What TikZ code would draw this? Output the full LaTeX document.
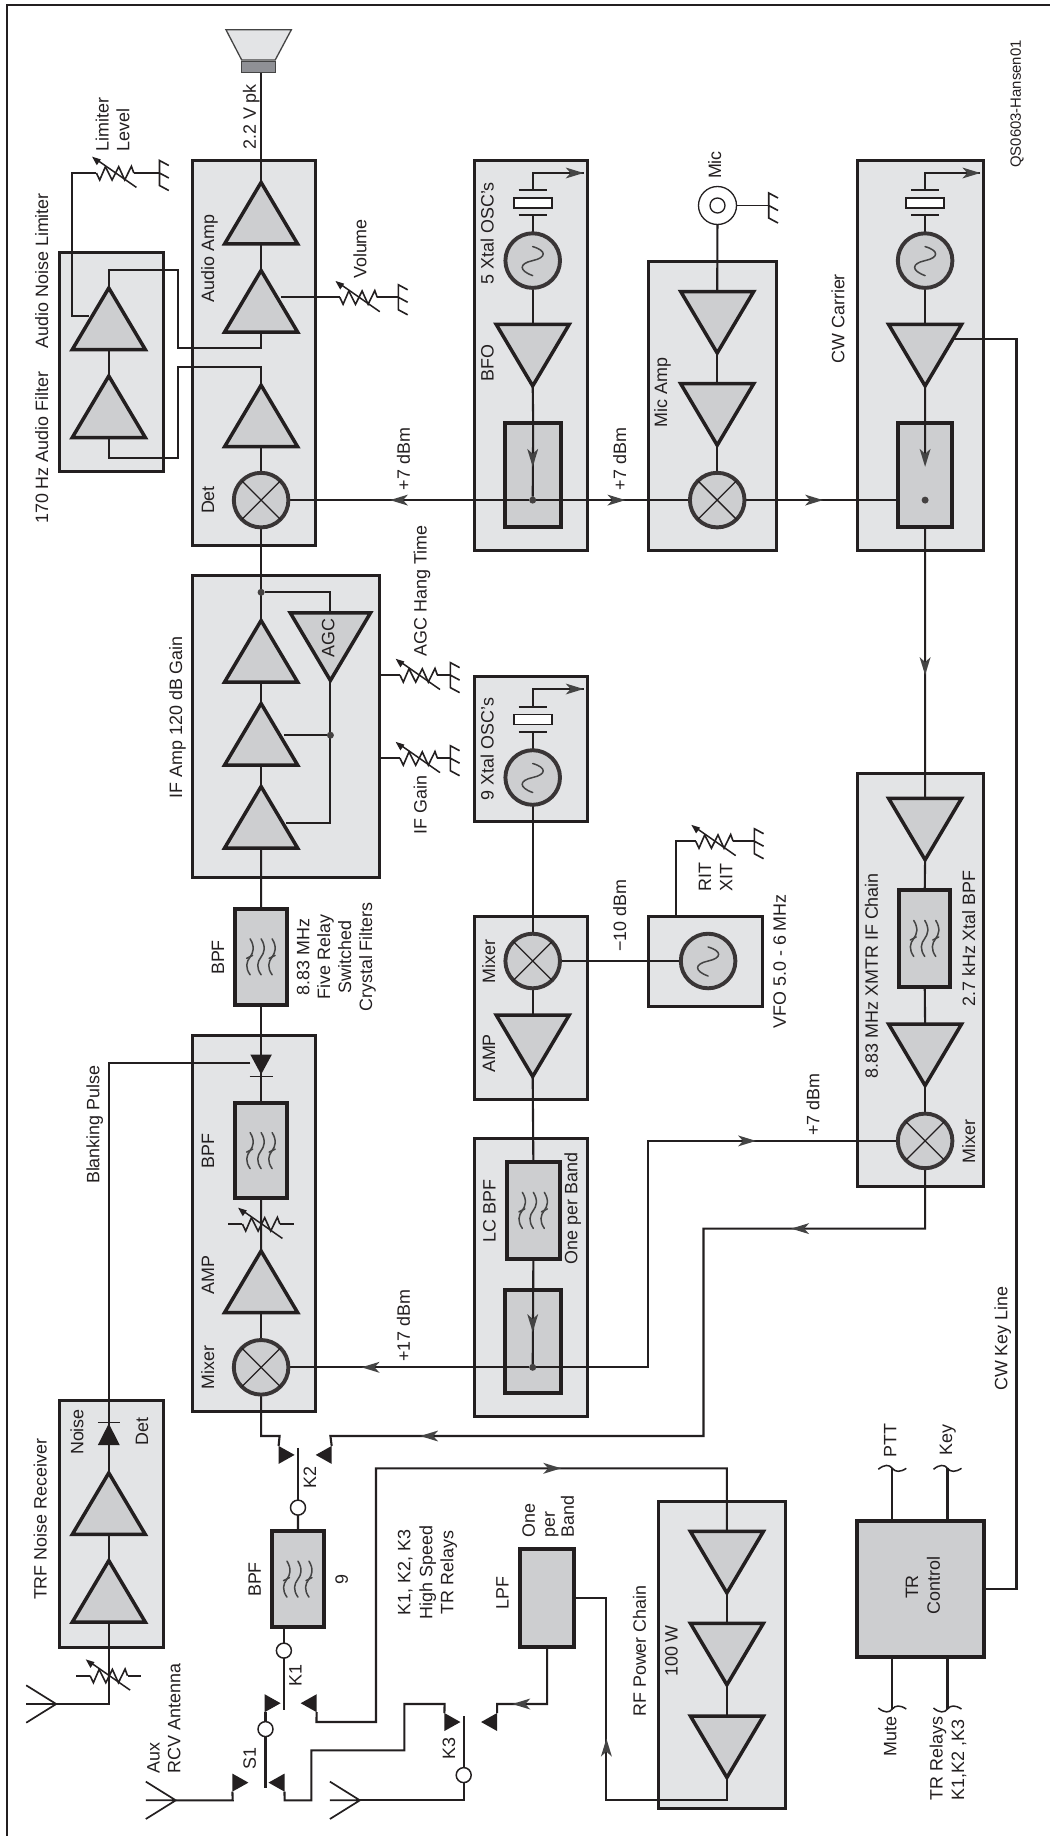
\documentclass[tikz,border=0pt]{standalone}
\usepackage{fontspec}
\setmainfont{Liberation Sans}
\definecolor{blockc}{HTML}{E3E4E6}
\definecolor{compc}{HTML}{CDCED0}
\definecolor{inkc}{HTML}{231F20}
\definecolor{headc}{HTML}{444444}
\definecolor{magc}{HTML}{8F9095}
\pgfdeclarelayer{blocks}\pgfdeclarelayer{parts}
\pgfsetlayers{blocks,main,parts}
\tikzset{
 blk/.style={draw=inkc,fill=blockc,line width=3pt,inner sep=0pt,outer sep=0pt,rectangle},
 comp/.style={draw=inkc,fill=compc,line width=4pt,inner sep=0pt,outer sep=0pt,rectangle},
 magnet/.style={draw=headc,fill=magc,line width=1.5pt,inner sep=0pt,outer sep=0pt,rectangle},
 ampst/.style={draw=inkc,fill=compc,line width=3.5pt,line join=miter,miter limit=10},
 wire/.style={draw=inkc,line width=2.1pt,line join=miter},
 thinl/.style={draw=inkc,line width=1.3pt},
 ring/.style={circle,draw=inkc!90,fill=compc,line width=3.9pt,minimum size=54.6pt,inner sep=0pt,outer sep=0pt},
 jdot/.style={circle,fill=inkc!85,minimum size=7pt,inner sep=0pt,outer sep=0pt},
 contact/.style={circle,draw=inkc,fill=white,line width=1.5pt,minimum size=15pt,inner sep=0pt,outer sep=0pt},
 xbody/.style={rectangle,draw=inkc,fill=white,line width=1.6pt,minimum width=38pt,minimum height=10pt,inner sep=0pt,outer sep=0pt},
 sq/.style={draw=headc,line width=1.5pt,line cap=round},
 lab/.style={rotate=90,inner sep=0pt,outer sep=0pt,text=inkc,font=\fontsize{17.9}{20}\selectfont,text height=12.8pt,text depth=0pt},
 labs/.style={lab,font=\fontsize{14.9}{18}\selectfont,text height=10.7pt},
}
\newcommand{\Blk}[6][blk]{\node[#1,minimum width={(#5-#3-3)*1pt},minimum height={(#6-#4-3)*1pt}] (#2) at ({(#3+#5)/2},{(#4+#6)/2}) {};}
\newcommand{\AmpU}[3]{\coordinate (#1B) at (#2,#3);\coordinate (#1A) at (#2,#3-61.5);
 \draw[ampst] (#2-36.5,#3) -- (#2,#3-61.5) -- (#2+36.5,#3) -- cycle;}
\newcommand{\AmpD}[4][1]{\coordinate (#2B) at (#3,#4);\coordinate (#2A) at (#3,#4+61.5*#1);
 \draw[ampst] (#3-36.5*#1,#4) -- (#3,#4+61.5*#1) -- (#3+36.5*#1,#4) -- cycle;}
\newcommand{\Mix}[3]{\node[ring] (#1) at (#2,#3) {};
 \draw[thinl] (#1.north west) -- (#1.south east) (#1.north east) -- (#1.south west);}
\newcommand{\Osc}[3]{\node[ring] (#1) at (#2,#3) {};
 \draw[sq,shift={(#1.center)}] (0,15) .. controls (-14,10) and (-14,3) .. (0,0) .. controls (14,-3) and (14,-10) .. (0,-14);}
\newcommand{\Xtal}[3]{\coordinate (#1T) at (#2,#3);\coordinate (#1B) at (#2,#3+25);
 \draw[thinl,line width=1.6pt] (#2-14,#3) -- (#2+14,#3) (#2-14,#3+25) -- (#2+14,#3+25);
 \node[xbody] (#1) at (#2,#3+12.5) {};}
\newcommand{\VR}[3]{\coordinate (#1L) at (#2,#3);\coordinate (#1R) at (#2+37.4,#3);
 \begin{scope}[shift={(#2,#3)}]
 \draw[thinl,line width=1.6pt,line join=miter] (0,0) -- (3.3,7) -- (9,-6.3) -- (15.7,7) -- (22.3,-6.3) -- (28.3,7) -- (35,-6.7) -- (37.4,0);
 \draw[thinl,line width=1.5pt] (40,14.4) -- (0,-13.5);
 \fill[inkc] (-4.3,-16.3) -- (4.4,-13.6) -- (0.4,-7.8) -- cycle;
 \end{scope}}
\newcommand{\Gnd}[3]{\coordinate (#1) at (#2,#3);
 \draw[thinl,line width=1.6pt] (#2+9.3,#3-7.5) -- (#2,#3-12.5) -- (#2,#3+12.5) -- (#2+9.3,#3+17.5) (#2,#3) -- (#2+9.3,#3+5);}
\newcommand{\Ant}[3]{\coordinate (#1) at (#2,#3);
 \draw[thinl,line width=1.7pt,line join=miter] (#2-30,#3-18.7) -- (#2,#3) -- (#2-30,#3+18.7) (#2-30,#3) -- (#2,#3);}
\newcommand{\RelR}[3]{\coordinate (#1T) at (#2-16,#3-9);\coordinate (#1D) at (#2-16,#3+9);
 \fill[inkc] (#2,#3) -- (#2-16,#3-9) -- (#2-16,#3+9) -- cycle;}
\newcommand{\RelL}[3]{\coordinate (#1T) at (#2+16,#3-9);\coordinate (#1D) at (#2+16,#3+9);
 \fill[inkc] (#2,#3) -- (#2+16,#3-9) -- (#2+16,#3+9) -- cycle;}
\newcommand{\Hd}[3]{\fill[headc,shift={(#1,#2)},rotate=#3] (0,0) -- (-18,5.5) -- (-13,0) -- (-18,-5.5) -- cycle;}
\newcommand{\Squig}[1]{\begin{scope}[shift={(#1.center)}]
 \foreach \dx in {-11,0,11}{\draw[sq] (\dx,-18) .. controls (\dx+5,-10) and (\dx+3,-4) .. (\dx,0) .. controls (\dx-4,5) and (\dx-5,11) .. (\dx,18);}
 \draw[sq] (-14.5,1.5) -- (-8.5,-1.5) (8,1.5) -- (14,-1.5);
 \end{scope}}
\newcommand{\Wave}[4]{\coordinate (#1) at (#2,#3);
 \draw[thinl,line width=1.5pt] (#2-14,#3+#4*1) .. controls (#2-8,#3-#4*4) and (#2-3,#3-#4*4) .. (#2,#3) .. controls (#2+3,#3+#4*4) and (#2+8,#3+#4*4) .. (#2+14,#3);}
\newcommand{\Lab}[4]{\node[lab] (#1) at (#2,#3) {#4};}
\newcommand{\LabW}[4]{\node[lab,anchor=west] (#1) at (#2,#3) {#4};}
\begin{document}
\begin{tikzpicture}[x=1pt,y=-1pt]
\useasboundingbox (0,0) rectangle (1050,1836);
%================ blocks
\begin{pgfonlayer}{blocks}
\fill[white] (0,0) rectangle (1050,1836);
\coordinate (fa) at (6.7,1836);\coordinate (fb) at (6.7,5);\coordinate (fc) at (1050,5);
\draw[inkc,line width=2.2pt,line join=miter] (fa) -- (fb) -- (fc);
\Blk{audb}{190.8}{158.8}{317}{547.2}
\Blk{filb}{57.6}{251.4}{164.7}{473.3}
\Blk{bfob}{472.7}{158.8}{589.3}{551.8}
\Blk{micb}{647.2}{260.2}{777.8}{551.8}
\Blk{cwb}{855.5}{158.8}{985.4}{551.8}
\Blk{ifb}{190.8}{574}{381}{878.8}
\Blk{rfb}{190.8}{1034.1}{317}{1413.3}
\Blk{xob}{472.7}{675.1}{589.3}{823.4}
\Blk{mxb}{472.7}{915.1}{589.3}{1101}
\Blk{lcb}{472.7}{1136.6}{589.3}{1418.4}
\Blk{vfob}{647.2}{915.1}{764.4}{1008}
\Blk{xmb}{855.5}{772}{985.4}{1188}
\Blk{pab}{656.6}{1500.1}{786.8}{1810}
\Blk{trfb}{57.6}{1398.8}{164.7}{1649}
\Blk[comp]{bfor}{503.9}{421.7}{562.5}{528.8}
\Blk[comp]{cwr}{896.6}{421.7}{953.5}{528.8}
\Blk[comp]{bpfa}{233.7}{907.6}{288.6}{1006.1}
\Blk[comp]{bpfb}{233.7}{1101.4}{288.6}{1199.8}
\Blk[comp]{bpfc}{270.5}{1529.6}{325.4}{1628.6}
\Blk[comp]{bpfd}{505}{1160.7}{561.7}{1260}
\Blk[comp]{bpfe}{897.6}{888.6}{951.9}{988.3}
\Blk[comp]{lcr}{503.9}{1288.8}{562.5}{1394.8}
\Blk[comp]{lpf}{518.3}{1547.2}{575.9}{1648.2}
\Blk[comp]{trc}{855.5}{1519.4}{985.4}{1658}
\Squig{bpfa}\Squig{bpfb}\Squig{bpfc}\Squig{bpfd}\Squig{bpfe}
\end{pgfonlayer}
%================ parts
\begin{pgfonlayer}{parts}
% speaker
\coordinate (sp1) at (226,29.8);\coordinate (sp2) at (291.3,29.8);\coordinate (sp3) at (275.2,60);\coordinate (sp4) at (241.7,60);
\draw[draw=headc,fill=blockc,line width=1.3pt,line join=miter] (sp1) -- (sp2) -- (sp3) -- (sp4) -- cycle;
\Blk[magnet]{spk}{240}{60}{276.9}{73.9}
% amps
\AmpU{a1}{261.1}{243.9}\AmpU{a2}{261.1}{332}\AmpU{a3}{261.1}{446.7}
\AmpU{f1}{108.8}{349.5}\AmpU{f2}{108.8}{437.5}
\AmpU{i1}{261.1}{682}\AmpU{i2}{261.1}{765}\AmpU{i3}{261.1}{848}
\AmpU{ra}{261.1}{1312.5}
\AmpU{t1}{108.8}{1534.4}\AmpU{t2}{108.8}{1622.1}
\AmpD[1.1]{agc}{330.4}{612.8}
\AmpD{bt}{532.7}{324.4}\AmpD{cwt}{925.1}{324.4}
\AmpD{m1}{717.2}{291.5}\AmpD{m2}{717.2}{383.7}
\AmpD{mt}{532.7}{1015}
\AmpD{x1}{925.1}{798.3}\AmpD{x2}{925.1}{1024}
\AmpD{p1}{726.9}{1531.4}\AmpD{p2}{726.9}{1623.3}\AmpD{p3}{726.9}{1716}
% mixers and oscillators
\Mix{det}{261.1}{500.1}\Mix{micm}{717.2}{500.1}\Mix{ifm}{532.7}{961}\Mix{xmm}{925.1}{1140.9}\Mix{rfm}{261.1}{1367.3}
\Osc{bfoo}{532.7}{260.6}\Osc{cwo}{925.1}{260.6}\Osc{xo}{532.7}{777.5}\Osc{vfoo}{708.1}{961}
\Xtal{bx}{532.7}{190.2}\Xtal{cx}{925.1}{190.2}\Xtal{nx}{532.7}{706.8}
% variable resistors
\VR{lim}{96.4}{173}\VR{vol}{339.8}{297.3}\VR{hang}{400}{675.1}\VR{ifg}{400}{758.2}\VR{rit}{695.7}{841.2}
\VR{rfv}{242.4}{1224}\VR{trv}{90.1}{1675.7}
\coordinate (rfa) at (228.3,1224);\coordinate (rfz) at (294,1224);
\coordinate (tra) at (76.3,1675.7);\coordinate (trz) at (141.3,1675.7);
\draw[thinl,line width=1.6pt] (rfa) -- (rfvL) (rfvR) -- (rfz) (tra) -- (trvL) (trvR) -- (trz);
% grounds
\Gnd{lg}{159.5}{173}\Gnd{vg}{398.4}{297.3}\Gnd{hg}{450.3}{675.1}\Gnd{ig}{450.3}{758.2}\Gnd{mg}{768.7}{205.5}\Gnd{rg}{754.3}{841.2}
% antennas
\Ant{an1}{56.2}{1704}\Ant{an2}{175.8}{1800.3}\Ant{an3}{359.9}{1800.3}
% relay contacts
\RelR{k2l}{294.6}{1454.9}\RelL{k2r}{315.7}{1454.9}
\RelR{k1l}{280.6}{1703.2}\RelL{k1r}{300.7}{1703.2}
\RelR{s1l}{248.4}{1782.6}\RelL{s1r}{268.5}{1782.6}
\RelR{k3l}{460.4}{1722}\RelL{k3r}{481.1}{1722}
\node[contact] (k2c) at (298,1507.6) {};
\node[contact] (k1c) at (283.9,1650.6) {};
\node[contact] (s1c) at (265.5,1729.1) {};
\node[contact] (k3c) at (463.7,1775.1) {};
% diodes
\coordinate (dbl) at (250.4,1054.7);\coordinate (dbr) at (271.8,1054.7);\coordinate (dbt) at (261.1,1074.5);
\fill[inkc] (dbl) -- (dbr) -- (dbt) -- cycle;
\coordinate (dba) at (249.6,1076.5);\coordinate (dbz) at (272.6,1076.5);
\draw[thinl,line width=1.6pt] (dba) -- (dbz);
\coordinate (ndl) at (97.8,1445.1);\coordinate (ndr) at (119.8,1445.1);\coordinate (ndt) at (108.8,1423.5);
\fill[inkc] (ndl) -- (ndr) -- (ndt) -- cycle;
\coordinate (nda) at (97.8,1422.3);\coordinate (ndz) at (119.8,1422.3);
\draw[thinl,line width=1.6pt] (nda) -- (ndz);
% jack
\node[circle,draw=inkc,line width=1.3pt,fill=white,minimum size=38pt,inner sep=0pt,outer sep=0pt] (jk) at (717.5,205.5) {};
\node[circle,draw=inkc,line width=1.3pt,fill=white,minimum size=15pt,inner sep=0pt,outer sep=0pt] (jki) at (717.5,205.5) {};
% dots
\node[jdot] (j1) at (261.1,592.3) {};
\node[jdot] (j2) at (330.4,735.2) {};
\node[jdot] (j3) at (532.7,500.1) {};
\node[jdot] (j4) at (925.1,500.1) {};
\node[jdot] (j5) at (532.7,1367.3) {};
% stub waves
\Wave{w1}{892.3}{1468.3}{1}\Wave{w2}{947.5}{1468.3}{1}\Wave{w3}{892.3}{1709}{-1}\Wave{w4}{947.5}{1709}{-1}
% arrowheads
\Hd{390}{500.1}{180}\Hd{625.4}{500.1}{0}\Hd{823}{500.1}{0}
\Hd{532.7}{466.8}{-90}\Hd{925.1}{466.8}{-90}
\Hd{583.6}{173}{0}\Hd{980.3}{173}{0}\Hd{583.6}{689}{0}
\Hd{925.1}{675.1}{-90}\Hd{756}{1140.9}{0}\Hd{361.6}{1367.3}{180}
\Hd{532.7}{1332}{-90}\Hd{791.2}{1228.6}{180}\Hd{420.2}{1436}{180}
\Hd{561.2}{1468.3}{0}\Hd{512.3}{1704}{180}\Hd{606.4}{1738.6}{90}
% labels
\Lab{l1}{41.8}{270.7}{Audio Noise Limiter}
\Lab{l2}{41.8}{447.7}{170 Hz Audio Filter}
\LabW{l3}{102.1}{151}{Limiter}
\LabW{l4}{122.9}{151}{Level}
\Lab{l5}{207.6}{258.3}{Audio Amp}
\Lab{l6}{207.6}{500}{Det}
\Lab{l7}{249.4}{117}{2.2 V pk}
\Lab{l8}{360}{249}{Volume}
\Lab{l9}{403.4}{459.1}{+7 dBm}
\Lab{l10}{487.1}{233.4}{5 Xtal OSC's}
\Lab{l11}{487.1}{362.8}{BFO}
\Lab{l12}{714.8}{165}{Mic}
\Lab{l13}{660.6}{392.2}{Mic Amp}
\Lab{l14}{619.7}{459.1}{+7 dBm}
\Lab{l15}{838}{318.8}{CW Carrier}
\node[labs] (l16) at (1015.5,104) {QS0603-Hansen01};
\Lab{l17}{175.8}{717.3}{IF Amp 120 dB Gain}
\Lab{l18}{328}{637.8}{AGC}
\Lab{l19}{420.2}{591}{AGC Hang Time}
\Lab{l20}{420.2}{804.8}{IF Gain}
\Lab{l21}{217.6}{957.5}{BPF}
\Lab{l22}{303}{957}{8.83 MHz}
\Lab{l23}{323.8}{957}{Five Relay}
\Lab{l24}{344.8}{957}{Switched}
\Lab{l25}{365.6}{957}{Crystal Filters}
\Lab{l26}{93}{1124.7}{Blanking Pulse}
\Lab{l27}{207.6}{1150.8}{BPF}
\Lab{l28}{207.6}{1275}{AMP}
\Lab{l29}{207.6}{1367.3}{Mixer}
\Lab{l30}{487.1}{749.1}{9 Xtal OSC's}
\Lab{l31}{488.8}{961.8}{Mixer}
\Lab{l32}{488.8}{1053.5}{AMP}
\Lab{l33}{489.3}{1211}{LC BPF}
\Lab{l34}{571}{1208.3}{One per Band}
\Lab{l35}{619.7}{915.5}{−10 dBm}
\Lab{l36}{704.8}{877.2}{RIT}
\Lab{l37}{725.9}{877.2}{XIT}
\Lab{l38}{779.5}{961.4}{VFO 5.0 - 6 MHz}
\Lab{l39}{871.5}{975.6}{8.83 MHz XMTR IF Chain}
\Lab{l40}{968.6}{938.5}{2.7 kHz Xtal BPF}
\Lab{l41}{968.6}{1141.7}{Mixer}
\Lab{l42}{813}{1104.5}{+7 dBm}
\Lab{l43}{403.4}{1325.7}{+17 dBm}
\Lab{l44}{40.2}{1519.4}{TRF Noise Receiver}
\Lab{l45}{77}{1432}{Noise}
\Lab{l46}{141.6}{1431.7}{Det}
\LabW{l47}{153.3}{1773}{Aux}
\LabW{l48}{174}{1773}{RCV Antenna}
\Lab{l49}{249.4}{1758.2}{S1}
\Lab{l50}{295.3}{1675.7}{K1}
\Lab{l51}{309.7}{1477.3}{K2}
\Lab{l52}{448.6}{1748.8}{K3}
\Lab{l53}{254.4}{1579.5}{BPF}
\Lab{l54}{341.5}{1579.5}{9}
\Lab{l55}{404}{1572.4}{K1, K2, K3}
\Lab{l56}{425.9}{1572.4}{High Speed}
\Lab{l57}{447}{1572.4}{TR Relays}
\Lab{l58}{502.2}{1593.2}{LPF}
\LabW{l59}{528.5}{1537.4}{One}
\LabW{l60}{548.4}{1537.4}{per}
\LabW{l61}{567.5}{1537.4}{Band}
\Lab{l62}{639.5}{1651}{RF Power Chain}
\Lab{l63}{671.3}{1651}{100 W}
\Lab{l64}{911.7}{1587}{TR}
\Lab{l65}{933.4}{1585.7}{Control}
\Lab{l66}{890}{1440.4}{PTT}
\Lab{l67}{945.8}{1440.4}{Key}
\Lab{l68}{890}{1736.6}{Mute}
\LabW{l69}{936.1}{1800}{TR Relays}
\LabW{l70}{957.6}{1800}{K1,K2 ,K3}
\Lab{l71}{1001}{1338.6}{CW Key Line}
\end{pgfonlayer}
%================ wires
% bend points
\coordinate (r1) at (261.1,348.2);\coordinate (r2) at (178.1,348.2);\coordinate (r3) at (178.1,269.8);\coordinate (r4) at (108.8,269.8);
\coordinate (q1) at (261.1,366.6);\coordinate (q2) at (178.1,366.6);\coordinate (q3) at (178.1,458.4);\coordinate (q4) at (108.8,458.4);
\coordinate (fs) at (88.7,316);\coordinate (ls1) at (72,316);\coordinate (ls2) at (72,173);
\coordinate (as) at (281.2,297.3);
\coordinate (g1) at (330.4,592.3);\coordinate (g2) at (330.4,823.4);\coordinate (g3) at (286.3,823.4);\coordinate (g4) at (283.9,735.2);
\draw[wire] (spk.south -| a1A) -- (a1A);
\draw[wire] (a1B) -- (a2A);
\draw[wire] (a2B) -- (r1) -- (r2) -- (r3) -- (r4) -- (f1A);
\draw[wire] (a3A) -- (q1) -- (q2) -- (q3) -- (q4) -- (f2B);
\draw[wire] (f1B) -- (f2A);
\draw[wire] (a3B) -- (det.north);
\draw[wire] (fs) -- (ls1) -- (ls2) -- (limL);
\draw[wire] (limR) -- (lg);
\draw[wire] (as) -- (volL);
\draw[wire] (volR) -- (vg);
\draw[wire] (det.south) -- (i1A);
\draw[wire] (j1) -- (g1) -- (agcB);
\draw[wire] (agcA) -- (g2) -- (g3);
\draw[wire] (j2) -- (g4);
\draw[wire] (i1B) -- (i2A);
\draw[wire] (i2B) -- (i3A);
\draw[wire] (i3B) -- (bpfa.north);
\draw[wire] (ifb.east |- hangL) -- (hangL);
\draw[wire] (hangR) -- (hg);
\draw[wire] (ifb.east |- ifgL) -- (ifgL);
\draw[wire] (ifgR) -- (ig);
\draw[wire] (det.east) -- (j3);
\draw[wire] (j3) -- (micm.west);
\draw[wire] (micm.east) -- (micm.east -| cwr.west);
\draw[wire] (bxT) -- ++(0,-17.2) -- ++(50.9,0);
\draw[wire] (bxB) -- (bfoo.north);
\draw[wire] (bfoo.south) -- (btB);
\draw[wire] (btA) -- (bfor.north);
\draw[wire] (bfor.north) -- (j3);
\draw[wire] (cxT) -- ++(0,-17.2) -- ++(55.2,0);
\draw[wire] (cxB) -- (cwo.north);
\draw[wire] (cwo.south) -- (cwtB);
\draw[wire] (cwtA) -- (cwr.north);
\coordinate (ca) at (925.1,455);
\draw[wire] (cwr.north) -- (ca);
\draw[wire] (cwr.south) -- (x1B);
\coordinate (ks) at (953.5,338.7);\coordinate (k1p) at (1016.5,338.7);
\draw[wire] (ks) -- (k1p) -- (k1p |- trc.east) -- (trc.east);
\draw[wire,line width=1.4pt] (jk.east) -- (mg);
\draw[wire] (jki.south) -- (m1B);
\draw[wire] (m1A) -- (m2B);
\draw[wire] (m2A) -- (micm.north);
\draw[wire] (x1A) -- (bpfe.north);
\draw[wire] (bpfe.south) -- (x2B);
\draw[wire] (x2A) -- (xmm.north);
\coordinate (u1) at (925.1,1228.6);\coordinate (u2) at (703.5,1228.6);\coordinate (u3) at (703.5,1436);\coordinate (u4) at (330.4,1436);
\draw[wire] (xmm.south) -- (u1) -- (u2) -- (u3) -- (u4) -- (k2rT);
\draw[wire] (rfm.east) -- (j5);
\coordinate (v1) at (648.2,1367.3);\coordinate (v2) at (648.2,1140.9);
\draw[wire] (j5) -- (v1) -- (v2) -- (xmm.west);
\draw[wire] (nxT) -- ++(0,-17.8) -- ++(50.9,0);
\draw[wire] (nxB) -- (xo.north);
\draw[wire] (xo.south) -- (ifm.north);
\draw[wire] (ifm.east) -- (vfoo.west);
\draw[wire] (ifm.south) -- (mtB);
\draw[wire] (mtA) -- (bpfd.north);
\draw[wire] (bpfd.south) -- (lcr.north);
\draw[wire] (lcr.north) -- (j5);
\coordinate (w5) at (675.7,841.2);
\draw[wire] (w5 |- vfob.north) -- (w5) -- (ritL);
\draw[wire] (ritR) -- (rg);
\draw[wire] (bpfa.south) -- (bpfb.north);
\draw[wire] (bpfb.south) -- (raA);
\draw[wire] (raB) -- (rfm.north);
\coordinate (y1) at (261.1,1436);\coordinate (y2) at (279.6,1436);
\draw[wire] (rfm.south) -- (y1) -- (y2) -- (k2lT);
\coordinate (b1) at (250.4,1062.6);\coordinate (b2) at (108.8,1062.6);
\draw[wire] (b1) -- (b2) -- (t1A);
\draw[wire] (t1B) -- (t2A);
\coordinate (t3) at (108.8,1704);
\draw[wire] (t2B) -- (t3) -- (an1);
\coordinate (k2t) at (298,1447.9);\coordinate (k1b) at (283.9,1710.3);\coordinate (s1b) at (265.5,1787.7);\coordinate (k3t) at (463.7,1715.8);
\draw[wire] (k2t) -- (k2c.north);
\draw[wire] (k2c.south) -- (bpfc.north);
\draw[wire] (bpfc.south -| k1c) -- (k1c.north);
\draw[wire] (k1c.south) -- (k1b);
\draw[wire] (s1c.north) -- (s1c.north |- k1lD);
\draw[wire] (s1c.south) -- (s1b);
\draw[wire] (k3c.north) -- (k3t);
\coordinate (z1) at (463.7,1800.3);
\draw[wire] (k3c.south) -- (z1) -- (an3);
\coordinate (n1) at (316.4,1722);\coordinate (n2) at (376,1722);\coordinate (n3) at (376,1468.3);\coordinate (n4) at (726.9,1468.3);
\draw[wire] (k1rD) -- (n1) -- (n2) -- (n3) -- (n4) -- (p1B);
\coordinate (o1) at (232.7,1800.3);
\draw[wire] (s1lD) -- (o1) -- (an2);
\coordinate (e1) at (284.6,1800.3);\coordinate (e2) at (311.4,1800.3);\coordinate (e3) at (311.4,1750.4);\coordinate (e4) at (404.4,1750.4);\coordinate (e5) at (404.4,1704);\coordinate (e6) at (444.6,1704);
\draw[wire] (s1rD) -- (e1) -- (e2) -- (e3) -- (e4) -- (e5) -- (e6) -- (k3lT);
\coordinate (h1) at (497.1,1704);\coordinate (h2) at (547.1,1704);
\draw[wire] (k3rT) -- (h1) -- (h2) -- (lpf.south);
\coordinate (c1) at (606.4,1597.7);\coordinate (c2) at (606.4,1800.3);\coordinate (c3) at (726.9,1800.3);
\draw[wire] (lpf.east) -- (c1) -- (c2) -- (c3) -- (p3A);
\draw[wire] (p1A) -- (p2B);
\draw[wire] (p2A) -- (p3B);
\draw[wire] (trc.north -| w1) -- (w1);
\draw[wire] (trc.north -| w2) -- (w2);
\draw[wire] (trc.south -| w3) -- (w3);
\draw[wire] (trc.south -| w4) -- (w4);
\end{tikzpicture}
\end{document}
